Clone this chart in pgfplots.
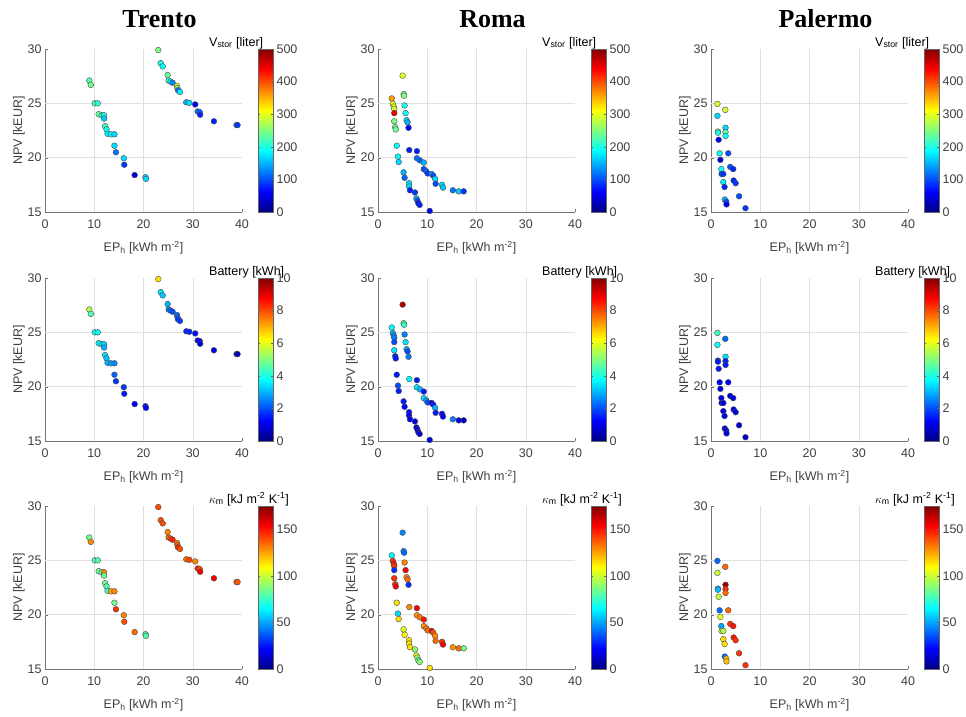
\documentclass[border=0pt]{standalone}
\usepackage{fontspec}
\setmainfont{Liberation Sans}
\newfontfamily\tnr{Liberation Serif}
\usepackage{pgfplots}
\usepackage{pgfplotstable}
\pgfplotsset{compat=1.18}

% columns: EP_h, NPV, V_stor, battery, kappa_m
\pgfplotstableread{
x y v b k
9.0 27.1 230 5.5 85
9.3 26.7 240 4.5 130
10.1 25.0 220 3.8 80
10.7 25.0 210 3.8 80
10.9 24.0 240 3.6 85
11.5 23.9 200 3.5 80
12.0 23.9 200 3.4 130
12.0 23.6 160 3.0 85
12.2 22.9 220 3.5 85
12.5 22.6 190 3.2 80
12.7 22.2 180 3.0 75
13.4 22.15 180 2.8 125
14.1 22.15 170 2.6 130
14.1 21.1 170 2.2 85
14.4 20.5 120 1.8 145
16.0 19.95 170 1.8 130
16.1 19.35 90 1.5 140
18.2 18.4 50 1.2 135
20.4 18.2 170 1.3 80
20.5 18.05 170 1.3 80
23.0 29.9 250 6.5 140
23.5 28.7 200 3.5 140
23.9 28.4 190 3.2 140
24.9 27.6 240 3.0 130
25.1 27.1 210 2.5 135
25.5 27.0 180 2.2 140
25.9 26.9 130 2.0 148
26.8 26.6 320 2.4 130
26.9 26.4 250 2.2 135
27.0 26.2 120 1.8 148
27.4 26.05 180 1.9 140
28.7 25.1 150 1.6 135
29.3 25.05 170 1.6 142
30.5 24.9 60 1.4 130
31.0 24.25 120 1.2 148
31.4 24.2 110 1.2 142
31.5 23.95 80 1.0 155
34.3 23.35 80 1.0 155
38.9 23.0 90 0.5 142
39.1 23.0 90 0.6 138
}\trento

\pgfplotstableread{
x y v b k
5.0 27.55 300 9.5 45
2.8 25.45 360 3.8 65
3.0 24.95 300 3.0 145
3.2 24.7 310 2.5 150
3.3 24.5 290 2.5 145
3.3 24.1 450 2.0 30
3.3 23.35 250 3.5 145
3.5 22.8 240 1.5 145
3.6 22.6 240 1.5 155
3.8 21.1 190 1.5 115
4.05 20.1 190 2.0 60
4.2 19.6 170 1.5 115
5.2 25.85 240 4.8 45
5.3 25.7 250 4.2 40
5.4 24.8 200 2.5 130
5.6 24.1 190 3.5 155
5.8 23.45 170 3.0 130
6.0 23.25 150 2.0 135
6.2 22.75 60 2.5 30
6.35 20.7 80 3.7 130
7.9 20.6 80 1.5 155
7.9 19.95 120 3.5 128
8.5 19.75 110 3.0 132
9.3 19.55 150 1.5 150
9.3 18.95 100 3.5 128
9.8 18.75 110 2.8 132
10.1 18.55 90 2.0 135
10.9 18.5 140 1.0 155
11.2 18.35 100 1.5 140
11.6 18.05 170 3.0 130
11.7 17.6 100 1.5 135
13.0 17.5 170 1.2 145
13.2 17.25 160 1.2 155
15.2 17.0 120 2.5 128
16.4 16.9 160 1.0 135
17.4 16.9 90 0.7 85
5.2 18.65 150 1.5 105
5.4 18.15 110 1.3 110
6.3 17.65 170 1.4 115
6.3 17.35 170 1.3 115
6.5 17.0 80 1.2 115
7.5 16.8 90 1.0 90
7.8 16.25 150 1.0 110
8.0 16.05 100 0.9 90
8.2 15.8 60 0.7 80
8.45 15.65 80 0.8 90
10.5 15.1 60 1.0 115
}\roma

\pgfplotstableread{
x y v b k
1.3 24.95 290 4.3 40
2.9 24.4 290 2.3 135
1.3 23.85 170 3.8 100
2.95 22.75 170 3.5 170
1.4 22.4 240 1.5 50
1.4 22.3 200 1.5 55
2.95 22.35 230 1.6 145
2.95 22.0 190 1.5 135
1.55 21.65 60 1.5 100
1.75 20.4 190 1.2 40
3.5 20.4 100 1.2 135
1.9 19.8 50 1.0 105
2.1 18.95 190 1.0 50
2.15 18.5 100 1.0 100
2.5 18.5 90 1.0 95
3.9 19.15 100 1.0 145
4.5 18.95 80 1.0 150
2.5 17.75 180 1.0 115
2.75 17.3 80 1.0 115
4.6 17.9 80 1.0 150
5.0 17.65 90 1.0 145
2.8 16.15 150 1.0 40
3.1 15.95 100 1.0 120
3.15 15.7 60 1.0 120
5.7 16.45 100 0.9 145
7.0 15.35 90 0.8 145
}\palermo

\newcommand\fs{\fontsize{12.5}{14}\selectfont}
\pgfplotsset{
  every axis/.append style={
    /pgf/number format/assume math mode=true,
    tick label style={font=\fs, text=black!75},
    label style={font=\fs, text=black!75},
  },
  panel/.style={
    scale only axis, width=197pt, height=163pt, anchor=north west,
    xmin=0, xmax=40, ymin=15, ymax=30,
    xtick={0,10,20,30,40}, ytick={15,20,25,30},
    axis x line*=bottom, axis y line*=left,
    axis line style={black!55}, tick style={black!55},
    tick align=inside, major tick length=3pt,
    extra x ticks={10,20,30}, extra x tick labels={},
    extra y ticks={20,25}, extra y tick labels={},
    extra tick style={grid=major, major grid style={black!12}, major tick length=0pt},
    xticklabel style={yshift=-4pt},
    xlabel={EP\textsubscript{h} [kWh m\textsuperscript{-2}]},
    xlabel style={yshift=-6pt},
    ylabel={NPV [kEUR]},
    ylabel style={yshift=-4pt},
    clip=false, colormap/jet, colorbar,
  },
  cb/.style={
    point meta min=0, point meta max=#1,
    colorbar style={at={(parent axis.north east)}, anchor=north west,
      xshift=7.5pt, width=15pt, axis line style={black!60},
      tick style={black!60}, tick align=inside, major tick length=2pt},
  },
  pts/.style={scatter, only marks, mark=*, mark size=2.9pt,
    mark options={line width=0.4pt},
    scatter/use mapped color={draw=black!70, fill=mapped color},
    point meta=\thisrow{#1}},
}
\newcommand\vlab{V\textsubscript{stor} [liter]}
\newcommand\blab{Battery [kWh]}
\newcommand\klab{$\kappa$\textsubscript{m} [kJ m\textsuperscript{-2} K\textsuperscript{-1}]}
\newcommand\cblabel[1]{\node[anchor=base west, font=\fs, text=black, inner sep=0pt]
  at (rel axis cs:1,1) [xshift=-33pt, yshift=3pt] {#1};}

\begin{document}
\begin{tikzpicture}
% titles
\node[font=\tnr\bfseries\fontsize{26}{28}\selectfont, anchor=base] at (159.5pt,-27pt) {Trento};
\node[font=\tnr\bfseries\fontsize{26}{28}\selectfont, anchor=base] at (492.5pt,-27pt) {Roma};
\node[font=\tnr\bfseries\fontsize{26}{28}\selectfont, anchor=base] at (825.5pt,-27pt) {Palermo};

% row 1: V_stor
\begin{axis}[panel, at={(45pt,-49pt)}, cb=500, colorbar style={ytick={0,100,...,500}}]
\addplot[pts=v] table[x=x, y=y] {\trento};
\cblabel{\vlab}
\end{axis}
\begin{axis}[panel, at={(378pt,-49pt)}, cb=500, colorbar style={ytick={0,100,...,500}}]
\addplot[pts=v] table[x=x, y=y] {\roma};
\cblabel{\vlab}
\end{axis}
\begin{axis}[panel, at={(711pt,-49pt)}, cb=500, colorbar style={ytick={0,100,...,500}}]
\addplot[pts=v] table[x=x, y=y] {\palermo};
\cblabel{\vlab}
\end{axis}

% row 2: battery
\begin{axis}[panel, at={(45pt,-278pt)}, cb=10, colorbar style={ytick={0,2,...,10}}]
\addplot[pts=b] table[x=x, y=y] {\trento};
\cblabel{\blab}
\end{axis}
\begin{axis}[panel, at={(378pt,-278pt)}, cb=10, colorbar style={ytick={0,2,...,10}}]
\addplot[pts=b] table[x=x, y=y] {\roma};
\cblabel{\blab}
\end{axis}
\begin{axis}[panel, at={(711pt,-278pt)}, cb=10, colorbar style={ytick={0,2,...,10}}]
\addplot[pts=b] table[x=x, y=y] {\palermo};
\cblabel{\blab}
\end{axis}

% row 3: kappa_m
\begin{axis}[panel, at={(45pt,-506pt)}, cb=175, colorbar style={ytick={0,50,100,150}}]
\addplot[pts=k] table[x=x, y=y] {\trento};
\cblabel{\klab}
\end{axis}
\begin{axis}[panel, at={(378pt,-506pt)}, cb=175, colorbar style={ytick={0,50,100,150}}]
\addplot[pts=k] table[x=x, y=y] {\roma};
\cblabel{\klab}
\end{axis}
\begin{axis}[panel, at={(711pt,-506pt)}, cb=175, colorbar style={ytick={0,50,100,150}}]
\addplot[pts=k] table[x=x, y=y] {\palermo};
\cblabel{\klab}
\end{axis}

\pgfresetboundingbox
\useasboundingbox (0,0) rectangle (966pt,-716pt);
\end{tikzpicture}
\end{document}
